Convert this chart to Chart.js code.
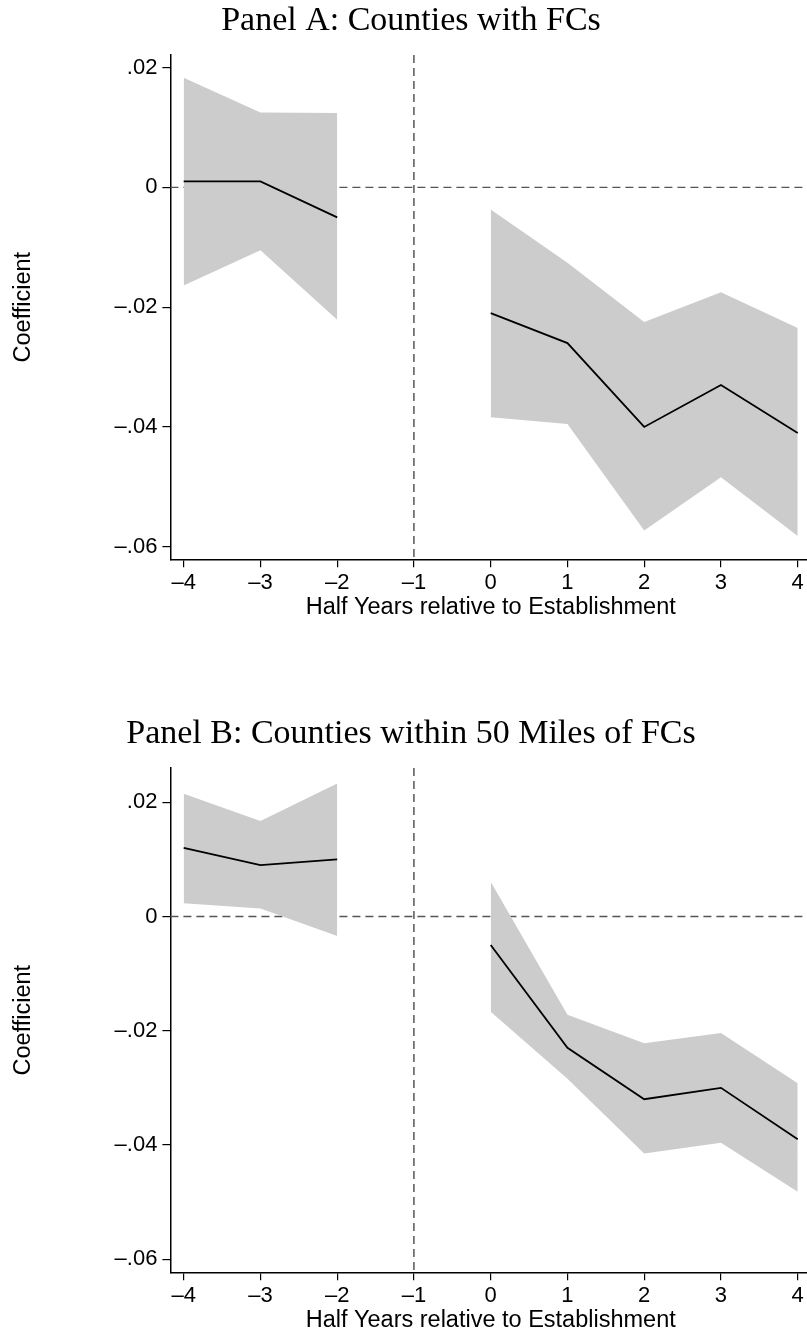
<!DOCTYPE html>
<html>
<head>
<meta charset="utf-8">
<script src="https://cdn.jsdelivr.net/npm/chart.js@4.4.1/dist/chart.umd.min.js"></script>
<style>
  html, body { margin: 0; padding: 0; background: #fff; overflow: hidden; }
  body { width: 807px; height: 1336px; position: relative; }
  .panel { position: absolute; left: 0; }
  #panelA { top: 0; }
  #panelB { top: 713px; }
</style>
</head>
<body>
<div class="panel" id="panelA"><canvas id="chartA" width="822" height="623"></canvas></div>
<div class="panel" id="panelB"><canvas id="chartB" width="822" height="623"></canvas></div>
<script>
// Periodos (medios años respecto al establecimiento)
const periods = [-4, -3, -2, -1, 0, 1, 2, 3, 4];
const periodLabels = ['–4', '–3', '–2', '–1', '0', '1', '2', '3', '4'];

// Panel A: condados con FCs
const coefA  = [0.001, 0.001, -0.005, null, -0.021, -0.026, -0.040, -0.033, -0.041];
const upperA = [0.0183, 0.0125, 0.0124, null, -0.0037, -0.0126, -0.0225, -0.0175, -0.0235];
const lowerA = [-0.0164, -0.0105, -0.0221, null, -0.0384, -0.0395, -0.0573, -0.0484, -0.0582];

// Panel B: condados a menos de 50 millas
const coefB  = [0.012, 0.009, 0.010, null, -0.005, -0.023, -0.032, -0.030, -0.039];
const upperB = [0.0215, 0.0167, 0.0233, null, 0.0061, -0.0172, -0.0222, -0.0204, -0.0292];
const lowerB = [0.0023, 0.0014, -0.0034, null, -0.0167, -0.0284, -0.0415, -0.0396, -0.0482];

const yTicks = [0.02, 0, -0.02, -0.04, -0.06];
const yTickLabels = ['.02', '0', '–.02', '–.04', '–.06'];

const refX = -1;
const refY = 0;

const tickFont = { family: 'Liberation Sans', size: 22 };
const axisTitleFont = { family: 'Liberation Sans', size: 23.5, lineHeight: 1 };

// Líneas de referencia discontinuas, detrás de las bandas
const refLines = {
  id: 'refLines',
  beforeDatasetsDraw(chart) {
    const { ctx, chartArea, scales } = chart;
    const y0 = scales.y.getPixelForValue(refY);
    const x0 = scales.x.getPixelForValue(refX);
    ctx.save();
    ctx.setLineDash([8, 5]);
    ctx.lineWidth = 1.3;
    ctx.strokeStyle = '#555';
    ctx.beginPath();
    ctx.moveTo(chartArea.left, y0);
    ctx.lineTo(chartArea.right, y0);
    ctx.stroke();
    ctx.strokeStyle = '#000';
    ctx.lineWidth = 1;
    ctx.beginPath();
    ctx.moveTo(x0, chartArea.top);
    ctx.lineTo(x0, chartArea.bottom);
    ctx.stroke();
    ctx.restore();
  }
};

function toPoints(values) {
  return periods.map((p, i) => ({ x: p, y: values[i] }));
}

function crearPanel(canvasId, titulo, coef, upper, lower, yMin, yMax) {
  const ctx = document.getElementById(canvasId).getContext('2d');
  return new Chart(ctx, {
    type: 'line',
    data: {
      datasets: [
        {
          data: toPoints(coef),
          borderColor: '#000',
          borderWidth: 1.8,
          pointRadius: 0,
          fill: false,
          spanGaps: false
        },
        {
          data: toPoints(upper),
          borderWidth: 0,
          borderColor: 'rgba(0,0,0,0)',
          backgroundColor: '#cccccc',
          pointRadius: 0,
          fill: '+1',
          spanGaps: false
        },
        {
          data: toPoints(lower),
          borderWidth: 0,
          borderColor: 'rgba(0,0,0,0)',
          pointRadius: 0,
          fill: false,
          spanGaps: false
        }
      ]
    },
    options: {
      responsive: false,
      animation: false,
      layout: { padding: { left: 11, right: 11, top: 0, bottom: 0 } },
      plugins: {
        legend: { display: false },
        tooltip: { enabled: false },
        title: {
          display: true,
          text: titulo,
          color: '#000',
          font: { family: 'Liberation Serif', size: 34, weight: 'normal' },
          padding: { top: 1, bottom: 13.2 }
        }
      },
      scales: {
        x: {
          type: 'linear',
          min: -4.173,
          max: 4.173,
          afterBuildTicks: (scale) => { scale.ticks = periods.map(v => ({ value: v })); },
          afterFit: (scale) => { scale.height = 63.7; },
          ticks: {
            color: '#000',
            font: tickFont,
            padding: 2,
            maxRotation: 0,
            autoSkip: false,
            callback: (v) => periodLabels[periods.indexOf(v)]
          },
          grid: { drawOnChartArea: false, color: '#000', lineWidth: 1.2, tickLength: 8 },
          border: { display: true, color: '#000', width: 1.5 },
          title: {
            display: true,
            text: 'Half Years relative to Establishment',
            color: '#000',
            font: axisTitleFont,
            padding: { top: 0, bottom: 4.2 }
          }
        },
        y: {
          type: 'linear',
          min: yMin,
          max: yMax,
          afterBuildTicks: (scale) => { scale.ticks = yTicks.map(v => ({ value: v })); },
          afterFit: (scale) => { scale.width = 159.4; },
          ticks: {
            color: '#000',
            font: tickFont,
            padding: 5,
            autoSkip: false,
            callback: (v) => yTickLabels[yTicks.indexOf(v)]
          },
          grid: { drawOnChartArea: false, color: '#000', lineWidth: 1.2, tickLength: 8 },
          border: { display: true, color: '#000', width: 1.5 },
          title: {
            display: true,
            text: 'Coefficient',
            color: '#000',
            font: axisTitleFont,
            padding: { top: 0.3, bottom: 0 }
          }
        }
      }
    },
    plugins: [refLines]
  });
}

crearPanel('chartA', 'Panel A: Counties with FCs', coefA, upperA, lowerA, -0.0621, 0.0221);
crearPanel('chartB', 'Panel B: Counties within 50 Miles of FCs', coefB, upperB, lowerB, -0.0623, 0.026);
</script>
</body>
</html>
